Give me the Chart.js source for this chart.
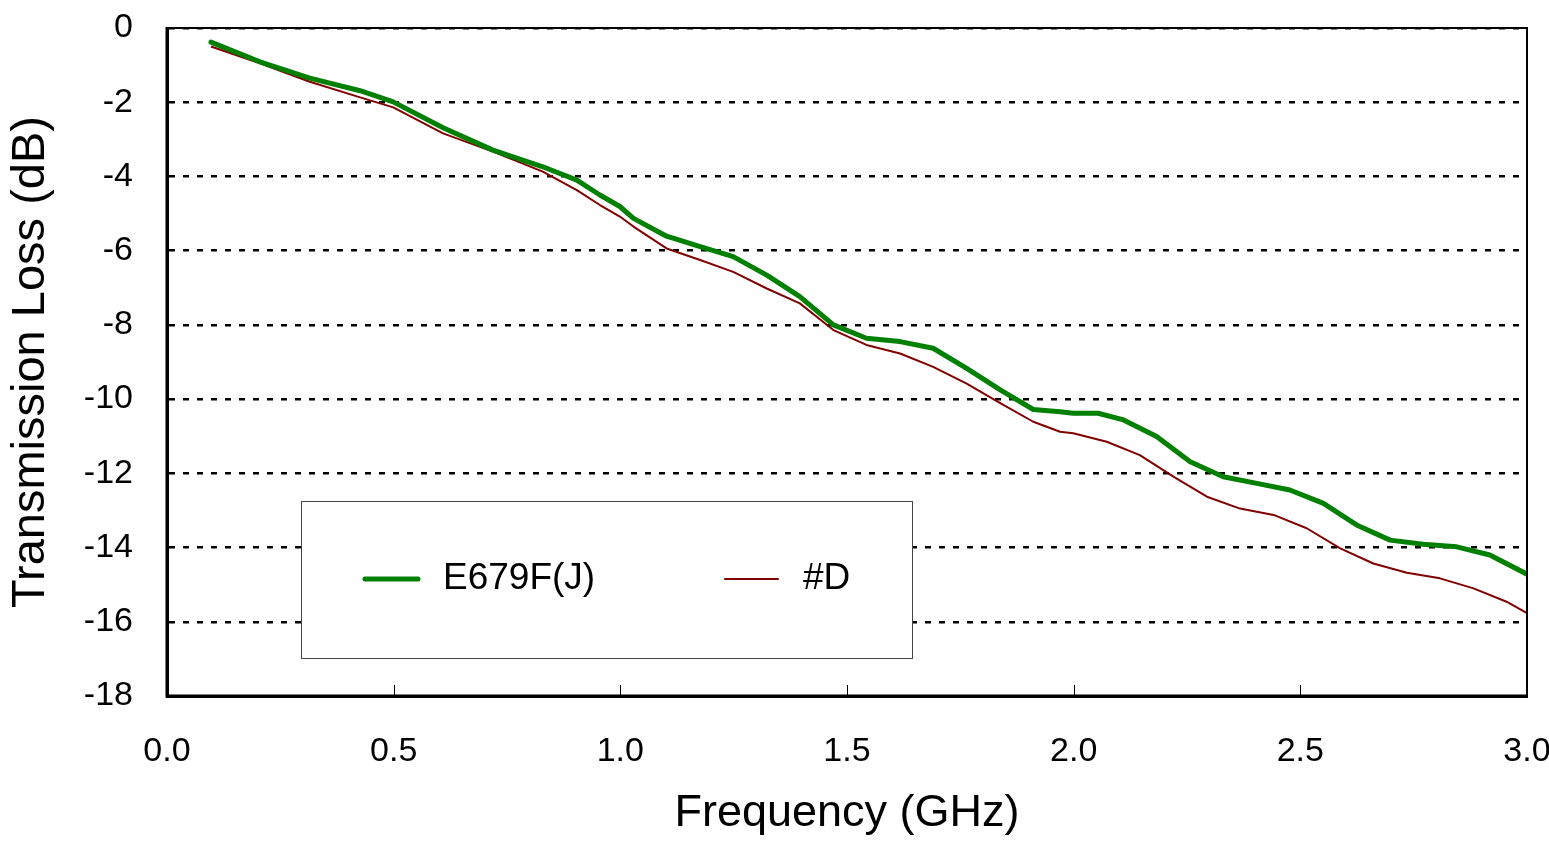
<!DOCTYPE html>
<html>
<head>
<meta charset="utf-8">
<script src="https://cdn.jsdelivr.net/npm/chart.js@4/dist/chart.umd.min.js"></script>
<style>
  html, body { margin: 0; padding: 0; background: #ffffff; }
  #c { display: block; }
</style>
</head>
<body>
<canvas id="c" width="1549" height="842"></canvas>
<script>
// ---- Data ----
const seriesNames = ["E679F(J)", "#D"];
const freqGreen = [0.097, 0.205, 0.315, 0.426, 0.499, 0.609, 0.719, 0.829, 0.904, 0.955, 0.999, 1.029, 1.102, 1.176, 1.249, 1.323, 1.396, 1.470, 1.543, 1.617, 1.690, 1.764, 1.838, 1.911, 1.970, 1.999, 2.054, 2.110, 2.183, 2.257, 2.330, 2.404, 2.477, 2.551, 2.624, 2.698, 2.771, 2.845, 2.918, 2.999];
const lossGreen = [-0.38, -0.91, -1.35, -1.69, -1.99, -2.69, -3.29, -3.74, -4.10, -4.50, -4.81, -5.13, -5.61, -5.89, -6.16, -6.66, -7.24, -8.00, -8.36, -8.45, -8.63, -9.17, -9.75, -10.28, -10.34, -10.38, -10.38, -10.56, -11.01, -11.69, -12.09, -12.27, -12.45, -12.81, -13.39, -13.80, -13.91, -13.98, -14.20, -14.71];
const freqRed = [0.097, 0.205, 0.315, 0.426, 0.499, 0.609, 0.719, 0.829, 0.904, 0.955, 0.999, 1.029, 1.102, 1.176, 1.249, 1.323, 1.396, 1.470, 1.543, 1.617, 1.690, 1.764, 1.838, 1.911, 1.970, 1.999, 2.073, 2.146, 2.220, 2.294, 2.367, 2.441, 2.514, 2.588, 2.661, 2.735, 2.808, 2.882, 2.955, 2.999];
const lossRed = [-0.50, -0.95, -1.45, -1.87, -2.14, -2.84, -3.33, -3.87, -4.37, -4.77, -5.08, -5.35, -5.94, -6.25, -6.57, -7.02, -7.42, -8.14, -8.54, -8.77, -9.13, -9.58, -10.11, -10.61, -10.88, -10.92, -11.15, -11.51, -12.09, -12.63, -12.95, -13.12, -13.48, -14.02, -14.43, -14.68, -14.83, -15.10, -15.46, -15.76];
const xTicks = [0.0, 0.5, 1.0, 1.5, 2.0, 2.5, 3.0];
const yTicks = [0, -2, -4, -6, -8, -10, -12, -14, -16, -18];

const FONT = "'Liberation Sans', Arial, sans-serif";

const toPts = (xs, ys) => xs.map((x, i) => ({ x: x, y: ys[i] }));

// Frame (top/right), inward x ticks, and legend box
const decorPlugin = {
  id: 'decor',
  afterDatasetsDraw(chart) {
    const { ctx, chartArea: a, scales } = chart;
    ctx.save();
    // inward x-axis tick marks
    ctx.strokeStyle = '#000';
    ctx.lineWidth = 1;
    xTicks.forEach(v => {
      const px = Math.round(scales.x.getPixelForValue(v)) + 0.5;
      ctx.beginPath();
      ctx.moveTo(px, a.bottom);
      ctx.lineTo(px, a.bottom - 11);
      ctx.stroke();
    });
    // frame
    ctx.lineWidth = 2;
    ctx.beginPath();
    ctx.moveTo(a.left, a.top);
    ctx.lineTo(a.right, a.top);
    ctx.lineTo(a.right, a.bottom);
    ctx.stroke();
    ctx.lineWidth = 3;
    ctx.beginPath();
    ctx.moveTo(a.left, a.top - 1);
    ctx.lineTo(a.left, a.bottom);
    ctx.lineTo(a.right + 1, a.bottom);
    ctx.stroke();

    // legend box
    const bx = 301, by = 501, bw = 611, bh = 157;
    ctx.fillStyle = '#fff';
    ctx.fillRect(bx, by, bw, bh);
    ctx.strokeStyle = '#444';
    ctx.lineWidth = 1;
    ctx.strokeRect(bx + 0.5, by + 0.5, bw, bh);
    const ly = 579;
    const items = [{ x: 365, tx: 443 }, { x: 725, tx: 803 }];
    chart.data.datasets.forEach((ds, i) => {
      const it = items[i];
      ctx.strokeStyle = ds.borderColor;
      ctx.lineWidth = ds.borderWidth;
      ctx.lineCap = 'round';
      ctx.beginPath();
      ctx.moveTo(it.x, ly);
      ctx.lineTo(it.x + 53, ly);
      ctx.stroke();
      ctx.fillStyle = '#000';
      ctx.font = "37px " + FONT;
      ctx.textBaseline = 'middle';
      ctx.textAlign = 'left';
      ctx.fillText(ds.label, it.tx, ly);
    });
    ctx.restore();
  }
};

new Chart(document.getElementById('c'), {
  type: 'scatter',
  data: {
    datasets: [
      {
        label: seriesNames[0],
        data: toPts(freqGreen, lossGreen),
        showLine: true,
        borderColor: '#008000',
        backgroundColor: '#008000',
        borderWidth: 5,
        pointRadius: 0,
        tension: 0,
        borderJoinStyle: 'round',
        borderCapStyle: 'round'
      },
      {
        label: seriesNames[1],
        data: toPts(freqRed, lossRed),
        showLine: true,
        borderColor: '#800000',
        backgroundColor: '#800000',
        borderWidth: 2,
        pointRadius: 0,
        tension: 0,
        borderJoinStyle: 'round'
      }
    ]
  },
  options: {
    responsive: false,
    animation: false,
    devicePixelRatio: 1,
    layout: { padding: { top: 28, right: 22, left: 0, bottom: 0 } },
    plugins: {
      legend: { display: false },
      tooltip: { enabled: false },
      title: { display: false }
    },
    scales: {
      x: {
        type: 'linear',
        min: 0,
        max: 3,
        afterFit: s => { s.height = 146; s.paddingLeft = 0; s.paddingRight = 0; },
        afterBuildTicks: s => { s.ticks = xTicks.map(v => ({ value: v })); },
        ticks: {
          color: '#000',
          font: { family: FONT, size: 34 },
          padding: 35,
          maxRotation: 0,
          autoSkip: false,
          callback: v => Number(v).toFixed(1)
        },
        grid: { display: true, drawOnChartArea: false, drawTicks: false },
        border: { display: true, color: '#000', width: 3 },
        title: {
          display: true,
          text: 'Frequency (GHz)',
          color: '#000',
          font: { family: FONT, size: 45 },
          padding: { top: 0, bottom: 1 }
        }
      },
      y: {
        type: 'linear',
        min: -18,
        max: 0,
        afterFit: s => { s.width = 167; s.paddingTop = 0; s.paddingBottom = 0; },
        afterBuildTicks: s => { s.ticks = yTicks.map(v => ({ value: v })); },
        ticks: {
          color: '#000',
          font: { family: FONT, size: 34 },
          padding: 34,
          autoSkip: false,
          callback: v => String(v)
        },
        grid: {
          display: true,
          color: '#000',
          lineWidth: 2.5,
          drawTicks: false
        },
        border: { display: true, color: '#000', width: 3, dash: [6, 8] },
        title: {
          display: true,
          text: 'Transmission Loss (dB)',
          color: '#000',
          font: { family: FONT, size: 47 },
          padding: { top: 3, bottom: 0 }
        }
      }
    }
  },
  plugins: [decorPlugin]
});
</script>
</body>
</html>
